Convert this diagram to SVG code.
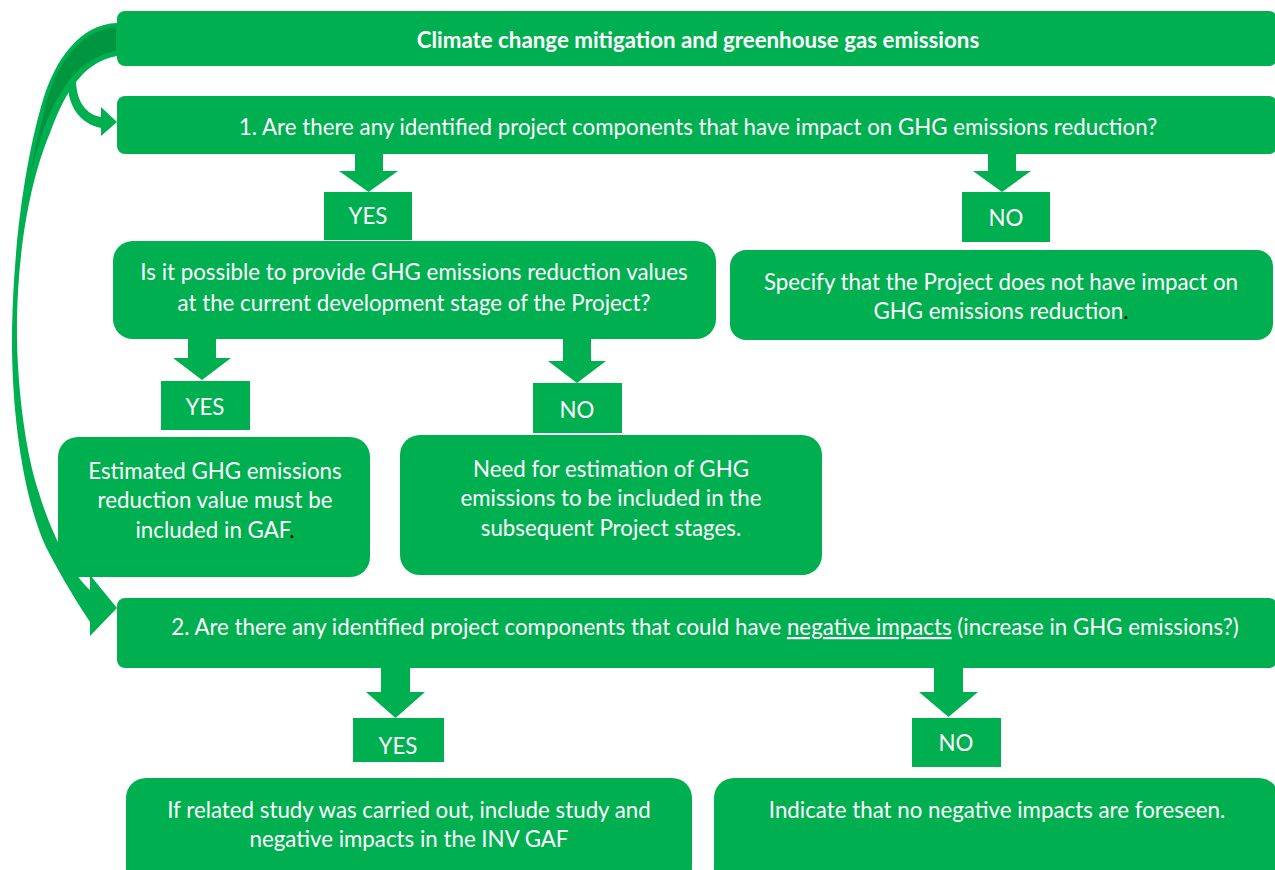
<svg xmlns="http://www.w3.org/2000/svg" width="1275" height="870" viewBox="0 0 1275 870">
<style>
.box{fill:#00B050;}
.t{font-family:Lato,"Liberation Sans",sans-serif;font-size:22.3px;fill:#ffffff;text-anchor:middle;}
.b{font-weight:bold;}
.arr{fill:#00B050;}
.dot{fill:#000000;}
</style>
<rect width="1275" height="870" fill="#ffffff"/>
<g id="connectors">
  <path class="arr" d="M68,82 C67,105 80,124 101,128 L101,136 L117,122 L101,107 L101,117 C88,115 77,104 76,82 Z"/>
  <path class="arr" d="M117,23 C80,24 55,60 43,100 C28,150 14,230 12,330 C11,420 25,500 45,545 C55,565 72,595 90,622 L90,636 L117,608 L90,575 L90,590 C70,572 50,530 38,490 C25,450 16,380 17,320 C18,250 30,180 50,133 C62,100 80,62 117,56 Z"/>
  <path fill="#009640" d="M116,27 C82,29 58,62 47,100 C40,125 33,160 27,190 C36,150 46,118 58,98 C72,72 92,55 116,51 Z"/>
  <path class="arr" d="M355,154 H383 V171 H398 L368.5,192 L339,171 H355 Z"/>
  <path class="arr" d="M988,154 H1016 V171 H1031 L1002,192 L973,171 H988 Z"/>
  <path class="arr" d="M188,339 H216 V358 H231 L202,380 L173,358 H188 Z"/>
  <path class="arr" d="M563,339 H591 V361 H606 L577,383 L548,361 H563 Z"/>
  <path class="arr" d="M381,668 H410 V692 H425 L395.5,718 L366,692 H381 Z"/>
  <path class="arr" d="M934,668 H963 V692 H978 L948.5,717 L919,692 H934 Z"/>
</g>
<g id="title">
  <rect class="box" x="117" y="11" width="1160" height="55" rx="8"/>
  <text class="t b" x="698" y="48">Climate change mitigation and greenhouse gas emissions</text>
</g>
<g id="q1">
  <rect class="box" x="117" y="96" width="1160" height="58" rx="8"/>
  <text class="t" x="698" y="135">1. Are there any identified project components that have impact on GHG emissions reduction?</text>
</g>
<g id="yes1">
  <rect class="box" x="324" y="192" width="88" height="48"/>
  <text class="t" x="368" y="224">YES</text>
</g>
<g id="no1">
  <rect class="box" x="962" y="192" width="88" height="50"/>
  <text class="t" x="1006" y="226">NO</text>
</g>
<g id="q1a">
  <rect class="box" x="113" y="241" width="603" height="98" rx="20"/>
  <text class="t" x="414" y="280">Is it possible to provide GHG emissions reduction values</text>
  <text class="t" x="414" y="311">at the current development stage of the Project?</text>
</g>
<g id="specify">
  <rect class="box" x="730" y="250" width="543" height="90" rx="16"/>
  <text class="t" x="1001" y="290">Specify that the Project does not have impact on</text>
  <text class="t" x="1001" y="319">GHG emissions reduction<tspan class="dot">.</tspan></text>
</g>
<g id="yes2">
  <rect class="box" x="161" y="381" width="89" height="49"/>
  <text class="t" x="205" y="415">YES</text>
</g>
<g id="no2">
  <rect class="box" x="533" y="383" width="89" height="50"/>
  <text class="t" x="577" y="418">NO</text>
</g>
<g id="estimated">
  <rect class="box" x="58" y="437" width="312" height="140" rx="20"/>
  <text class="t" x="215" y="479">Estimated GHG emissions</text>
  <text class="t" x="215" y="508">reduction value must be</text>
  <text class="t" x="215" y="538">included in GAF<tspan class="dot">.</tspan></text>
</g>
<g id="need">
  <rect class="box" x="400" y="435" width="422" height="140" rx="20"/>
  <text class="t" x="611" y="477">Need for estimation of GHG</text>
  <text class="t" x="611" y="506">emissions to be included in the</text>
  <text class="t" x="611" y="536">subsequent Project stages.</text>
</g>
<g id="q2">
  <rect class="box" x="117" y="598" width="1160" height="70" rx="8"/>
  <text class="t" x="705" y="635">2. Are there any identified project components that could have <tspan text-decoration="underline">negative impacts</tspan> (increase in GHG emissions?)</text>
</g>
<g id="yes3">
  <rect class="box" x="353" y="718" width="91" height="44"/>
  <text class="t" x="398" y="754">YES</text>
</g>
<g id="no3">
  <rect class="box" x="912" y="718" width="89" height="49"/>
  <text class="t" x="956" y="751">NO</text>
</g>
<g id="study">
  <rect class="box" x="126" y="778" width="566" height="110" rx="20"/>
  <text class="t" x="409" y="818">If related study was carried out, include study and</text>
  <text class="t" x="409" y="847">negative impacts in the INV GAF</text>
</g>
<g id="indicate">
  <rect class="box" x="714" y="778" width="565" height="110" rx="20"/>
  <text class="t" x="997" y="818">Indicate that no negative impacts are foreseen.</text>
</g>
</svg>
